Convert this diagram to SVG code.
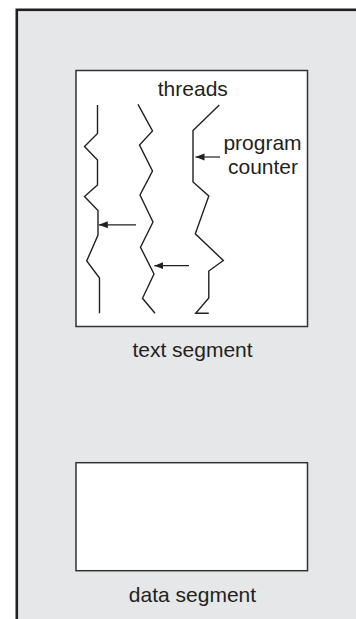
<svg xmlns="http://www.w3.org/2000/svg" width="356" height="619" viewBox="0 0 356 619">
<style>
.box{fill:#fff;stroke:#333;stroke-width:1.5}
.thread{fill:none;stroke:#231f20;stroke-width:1.4;stroke-linejoin:miter}
.ptr{fill:none;stroke:#231f20;stroke-width:1.2}
.lbl{font-family:"Liberation Sans",Arial,sans-serif;font-size:21px;fill:#231f20;text-anchor:middle}
</style>
<defs>
<marker id="ah" markerWidth="10" markerHeight="8" refX="9" refY="4" orient="auto" markerUnits="userSpaceOnUse">
<path d="M0,0.5 L9,4 L0,7.5 Z" fill="#231f20"/>
</marker>
</defs>
<rect id="process" x="16.8" y="9.8" width="360" height="630" fill="#e6e7e8" stroke="#231f20" stroke-width="2.6"/>
<g id="text-segment">
<rect class="box" x="76" y="70.5" width="231.5" height="256"/>
<text class="lbl" x="192.5" y="357">text segment</text>
</g>
<g id="data-segment">
<rect class="box" x="76" y="462.7" width="231.5" height="108"/>
<text class="lbl" x="192.5" y="601.5">data segment</text>
</g>
<g id="threads">
<text class="lbl" x="192.8" y="96">threads</text>
<polyline id="thread1" class="thread" points="97.5,105 97.5,133.5 84.5,146.5 97.5,160 97.5,185 84.5,196.5 98,210.5 98,235 86.7,261 99.5,278 99.5,313.3"/>
<polyline id="thread2" class="thread" points="138,104.3 152.5,131 139.5,145 152.5,171 140,195 153,222 140.5,247.3 154,274 142.5,298.3 155,313.3"/>
<polyline id="thread3" class="thread" points="219.3,105 193,130.5 193,182 208.8,196 195.3,233.8 223.3,260.5 208.8,271 208.8,298 195.7,313.3 208.8,313.3"/>
</g>
<g id="program-counter">
<text class="lbl" x="262.5" y="150">program</text>
<text class="lbl" x="263" y="174.3">counter</text>
</g>
<g id="connectors">
<line class="ptr" x1="220" y1="157" x2="195.5" y2="157" marker-end="url(#ah)"/>
<line class="ptr" x1="136" y1="224.8" x2="98.8" y2="224.8" marker-end="url(#ah)"/>
<line class="ptr" x1="189" y1="265.7" x2="154.3" y2="265.7" marker-end="url(#ah)"/>
</g>
</svg>
